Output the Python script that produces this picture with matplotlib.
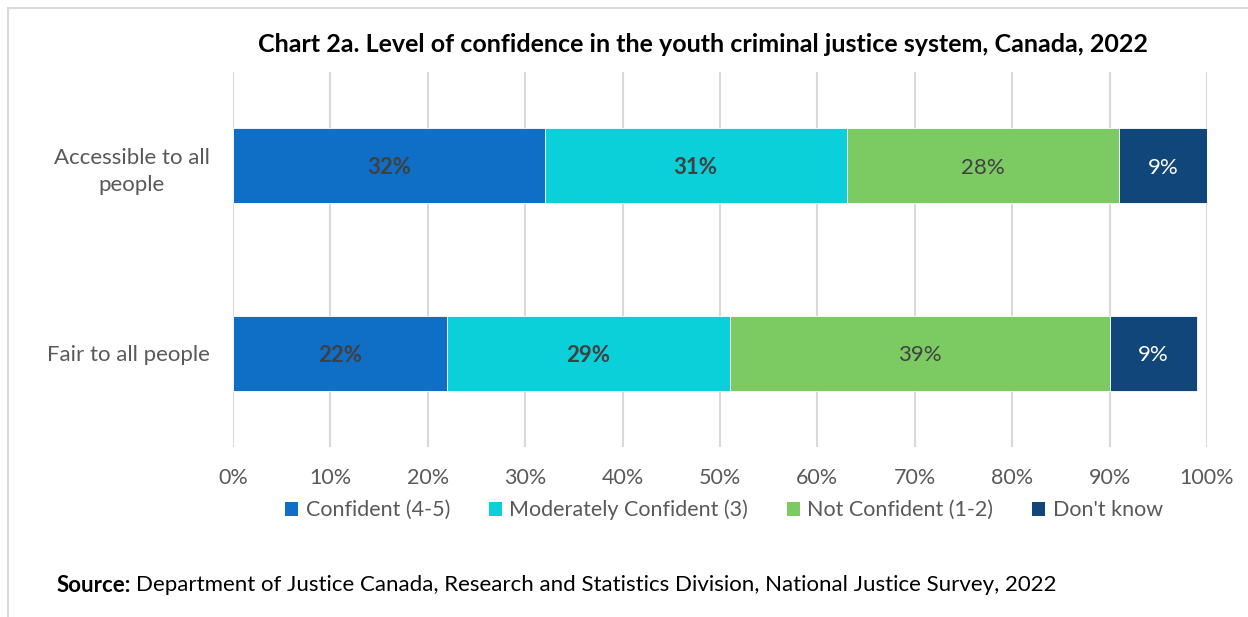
import matplotlib
matplotlib.use('Agg')
import matplotlib.pyplot as plt
from matplotlib.lines import Line2D
from matplotlib.patches import Patch

plt.rcParams['font.family'] = ['Lato', 'DejaVu Sans']

# 数据
categories = ['Accessible to all\npeople', 'Fair to all people']
series_names = ['Confident (4-5)', 'Moderately Confident (3)', 'Not Confident (1-2)', "Don't know"]
confident = [32, 22]
moderate = [31, 29]
not_confident = [28, 39]
dont_know = [9, 9]
xticks = [0, 10, 20, 30, 40, 50, 60, 70, 80, 90, 100]

colors = ['#0F6FC6', '#0BD0D9', '#7CCA62', '#10467A']
label_colors = ['#404040', '#404040', '#404040', 'white']
label_weights = ['bold', 'bold', 'normal', 'normal']
gray = '#595959'

fig = plt.figure(figsize=(12.48, 6.17), dpi=100)
W, H = 1248, 617
ax = fig.add_axes([233 / W, 1 - 447 / H, (1207 - 233) / W, (447 - 72) / H])

y = [0, 1]
left = [0, 0]
for vals, name, c, lc, lw in zip([confident, moderate, not_confident, dont_know],
                                 series_names, colors, label_colors, label_weights):
    bars = ax.barh(y, vals, left=left, height=0.4, color=c, edgecolor='white',
                   linewidth=0.6, label=name, zorder=3)
    for b, v in zip(bars, vals):
        ax.text(b.get_x() + b.get_width() / 2, b.get_y() + b.get_height() / 2 + 0.01, f'{v}%',
                ha='center', va='center', color=lc, fontweight=lw, fontsize=16, zorder=4)
    left = [l + v for l, v in zip(left, vals)]

ax.set_xlim(0, 100)
ax.set_ylim(1.5, -0.5)
ax.set_xticks(xticks)
ax.set_xticklabels([f'{t}%' for t in xticks])
ax.set_yticks(y)
ax.set_yticklabels(categories, multialignment='center', linespacing=1.45)
ax.tick_params(axis='x', length=0, pad=15, labelsize=15.5, labelcolor=gray)
ax.tick_params(axis='y', length=0, pad=17, labelsize=16, labelcolor=gray)
ax.grid(axis='x', color='#D9D9D9', linewidth=1.5, zorder=0)
for s in ax.spines.values():
    s.set_visible(False)

fig.text(703 / W, 1 - 44 / H,
         'Chart 2a. Level of confidence in the youth criminal justice system, Canada, 2022',
         ha='center', va='center', fontsize=18, fontweight='bold', color='black')

handles = [Patch(facecolor=c, label=n) for c, n in zip(colors, series_names)]
fig.legend(handles=handles, loc='center', bbox_to_anchor=(724 / W, 1 - 510 / H), ncol=4,
           frameon=False, fontsize=15.5, labelcolor=gray, handlelength=0.6, handleheight=0.6,
           handletextpad=0.35, columnspacing=1.8)

# 来源说明
src_bold = fig.text(57 / W, 1 - 585 / H, 'Source:', ha='left', va='center',
                    fontsize=16, fontweight='bold', color='black')
fig.canvas.draw()
bb = src_bold.get_window_extent()
fig.text((bb.x1 + 5) / W, 1 - 585 / H,
         'Department of Justice Canada, Research and Statistics Division, National Justice Survey, 2022',
         ha='left', va='center', fontsize=16, color='black')

# 外框（左、上）
fig.add_artist(Line2D([8 / W, 8 / W], [0, 1 - 8 / H], color='#D9D9D9', linewidth=1.5))
fig.add_artist(Line2D([8 / W, 1], [1 - 8 / H, 1 - 8 / H], color='#D9D9D9', linewidth=1.5))

fig.savefig('out.png', dpi=100)
